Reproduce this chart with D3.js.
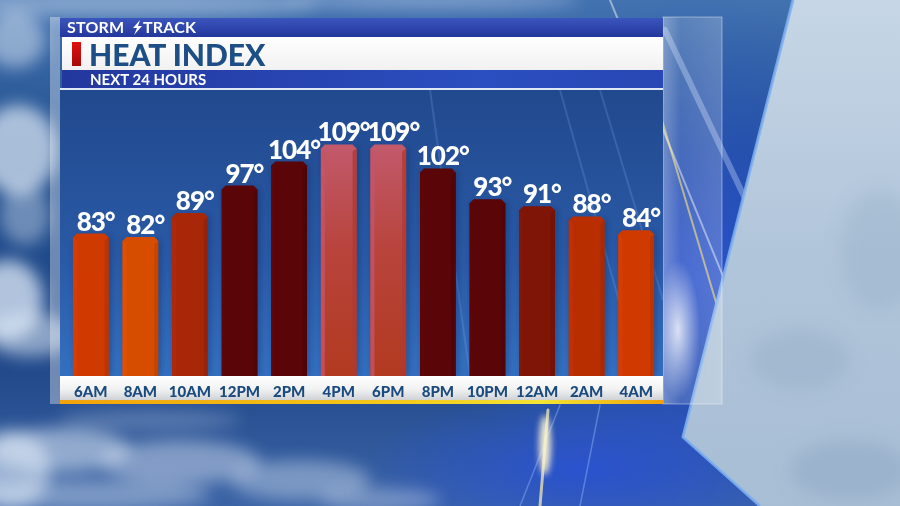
<!DOCTYPE html>
<html>
<head>
<meta charset="utf-8">
<script src="https://cdn.jsdelivr.net/npm/d3@7"></script>
<style>
  html, body { margin: 0; padding: 0; background: #1c3f7e; }
  svg { display: block; font-family: Lato, "Open Sans", sans-serif; }
</style>
</head>
<body>
<div class="chart"></div>
<script>
// heat index for the next 24 hours
var hours  = ["6AM", "8AM", "10AM", "12PM", "2PM", "4PM", "6PM", "8PM", "10PM", "12AM", "2AM", "4AM"];
var values = [83, 82, 89, 97, 104, 109, 109, 102, 93, 91, 88, 84];

var width = 900, height = 506;

var svg = d3.select(".chart").append("svg")
    .attr("width", width)
    .attr("height", height);

var defs = svg.append("defs");

function linGrad(id, x2, y2, stops) {
    var g = defs.append("linearGradient").attr("id", id)
        .attr("x1", 0).attr("y1", 0).attr("x2", x2).attr("y2", y2);
    stops.forEach(function(s) {
        g.append("stop").attr("offset", s[0]).attr("stop-color", s[1])
            .attr("stop-opacity", s[2] == null ? 1 : s[2]);
    });
}

function radGrad(id, color, o0) {
    var g = defs.append("radialGradient").attr("id", id)
        .attr("cx", 0.5).attr("cy", 0.5).attr("r", 0.5);
    g.append("stop").attr("offset", 0).attr("stop-color", color).attr("stop-opacity", o0);
    g.append("stop").attr("offset", 1).attr("stop-color", color).attr("stop-opacity", 0);
}

linGrad("sky", 0, 1, [[0, "#4272b0"], [0.3, "#22508f"], [0.7, "#1f4788"], [1, "#3b64a6"]]);
linGrad("haze", 0, 1, [[0, "#c6d6e6"], [0.5, "#b1c5da"], [1, "#a8bed5"]]);
linGrad("plotbg", 0, 1, [[0, "#21498e"], [0.6, "#2a5aa6"], [1, "#3470c0"]]);
linGrad("topbar", 0, 1, [[0, "#3b55be"], [1, "#23379c"]]);
linGrad("subbar", 1, 0, [[0, "#23389e"], [0.7, "#2b4fc0"], [1, "#2847b4"]]);
linGrad("whitebar", 0, 1, [[0, "#ffffff"], [1, "#f1f1f1"]]);
linGrad("strip", 0, 1, [[0, "#ffffff"], [0.55, "#f2f2f2"], [1, "#cfd2d6"]]);
linGrad("accent", 1, 0, [[0, "#f2a20c"], [0.55, "#f5c81a"], [0.8, "#f4e434"], [1, "#f2a20c"]]);
linGrad("marker", 0, 1, [[0, "#e01010"], [1, "#a80808"]]);
linGrad("glass", 1, 0, [[0, "#ffffff", 0.35], [0.3, "#ffffff", 0.15], [1, "#ffffff", 0.22]]);
linGrad("hot", 0, 1, [[0, "#c25a6c"], [0.45, "#b8443c"], [1, "#b23a20"]]);
radGrad("vivid", "#2a52d0", 0.95);
radGrad("glow", "#ffffff", 0.8);

var blur = defs.append("filter").attr("id", "blur")
    .attr("x", "-50%").attr("y", "-50%").attr("width", "200%").attr("height", "200%");
blur.append("feGaussianBlur").attr("stdDeviation", 8);

var soft = defs.append("filter").attr("id", "soft")
    .attr("x", "-50%").attr("y", "-50%").attr("width", "200%").attr("height", "200%");
soft.append("feGaussianBlur").attr("stdDeviation", 3);

// ---- background
var bg = svg.append("g");
bg.append("rect").attr("width", width).attr("height", height).attr("fill", "url(#sky)");
bg.append("ellipse").attr("cx", 700).attr("cy", 280).attr("rx", 240).attr("ry", 280).attr("fill", "url(#vivid)");
bg.append("ellipse").attr("cx", 580).attr("cy", 470).attr("rx", 220).attr("ry", 80).attr("fill", "url(#vivid)");

var clouds = bg.append("g").attr("filter", "url(#blur)").attr("fill", "#e2ecf8");
[[18, 150, 40, 45, 0.7], [8, 300, 35, 40, 0.75], [30, 335, 45, 22, 0.55],
 [25, 215, 25, 30, 0.4], [60, 450, 70, 22, 0.55], [180, 462, 80, 22, 0.45],
 [300, 480, 70, 20, 0.4], [10, 470, 40, 40, 0.6], [90, 495, 120, 15, 0.4],
 [150, 420, 90, 10, 0.25], [120, 4, 200, 14, 0.4], [430, 0, 150, 10, 0.35],
 [15, 40, 30, 28, 0.5], [380, 500, 60, 12, 0.35]].forEach(function(c) {
    clouds.append("ellipse").attr("cx", c[0]).attr("cy", c[1])
        .attr("rx", c[2]).attr("ry", c[3]).attr("opacity", c[4]);
});

// light streaks
var streaks = bg.append("g").attr("stroke-linecap", "round");
[[610, 0, 790, 440, "#ffffff", 2, 0.45], [665, 30, 760, 230, "#cfe0ff", 6, 0.35],
 [650, 80, 745, 400, "#ffe066", 2, 0.6], [540, 506, 548, 410, "#fff2b0", 3, 0.7],
 [520, 506, 560, 405, "#9cc4ff", 1.5, 0.4], [580, 506, 600, 405, "#9cc4ff", 1.5, 0.4]]
    .forEach(function(s) {
        streaks.append("line").attr("x1", s[0]).attr("y1", s[1]).attr("x2", s[2]).attr("y2", s[3])
            .attr("stroke", s[4]).attr("stroke-width", s[5]).attr("opacity", s[6]);
    });
bg.append("ellipse").attr("cx", 545).attr("cy", 445).attr("rx", 6).attr("ry", 30)
    .attr("fill", "#fff6d0").attr("filter", "url(#soft)").attr("opacity", 0.9);

// right haze panel
bg.append("path")
    .attr("d", "M793,0 L900,0 L900,506 L760,506 L683,437 Z")
    .attr("fill", "url(#haze)");
var haze = bg.append("g").attr("filter", "url(#blur)").attr("fill", "#8ea8c4");
[[850, 470, 60, 30, 0.5], [800, 360, 50, 30, 0.35], [880, 250, 40, 60, 0.3]].forEach(function(c) {
    haze.append("ellipse").attr("cx", c[0]).attr("cy", c[1]).attr("rx", c[2]).attr("ry", c[3]).attr("opacity", c[4]);
});
bg.append("path")
    .attr("d", "M793,0 L683,437 L760,506")
    .attr("fill", "none").attr("stroke", "#7fb0f0").attr("stroke-width", 3).attr("opacity", 0.85);

// ---- panel
var panel = { left: 60, right: 663, top: 90, bottom: 376 };

// glass edges
svg.append("rect").attr("x", 50).attr("y", 17).attr("width", 10).attr("height", 387)
    .attr("fill", "#ffffff").attr("opacity", 0.35);
svg.append("rect").attr("x", 663).attr("y", 17).attr("width", 59).attr("height", 387)
    .attr("fill", "url(#glass)").attr("stroke", "#ffffff").attr("stroke-opacity", 0.4);
svg.append("ellipse").attr("cx", 678).attr("cy", 330).attr("rx", 22).attr("ry", 70)
    .attr("fill", "url(#glow)");

// header
svg.append("rect").attr("x", 60).attr("y", 18).attr("width", 603).attr("height", 19).attr("fill", "url(#topbar)");
svg.append("rect").attr("x", 62).attr("y", 37).attr("width", 601).attr("height", 33).attr("fill", "url(#whitebar)");
svg.append("rect").attr("x", 62).attr("y", 70).attr("width", 601).attr("height", 18).attr("fill", "url(#subbar)");
svg.append("rect").attr("x", 60).attr("y", 88).attr("width", 603).attr("height", 2).attr("fill", "#dfe8f5");

svg.append("text").attr("x", 67).attr("y", 33).attr("fill", "#ffffff")
    .attr("font-size", 16).attr("font-weight", 700).attr("letter-spacing", 0.2).text("STORM");
svg.append("path").attr("d", "M140,20 L133,28 L137,28 L134,35 L142,26 L138,26 Z").attr("fill", "#ffffff");
svg.append("text").attr("x", 143).attr("y", 33).attr("fill", "#ffffff")
    .attr("font-size", 16).attr("font-weight", 700).attr("letter-spacing", 0.2).text("TRACK");

svg.append("rect").attr("x", 72).attr("y", 42).attr("width", 9).attr("height", 24).attr("fill", "url(#marker)");
svg.append("text").attr("x", 89).attr("y", 65.5).attr("fill", "#1d4f86")
    .attr("font-size", 30).attr("font-weight", 900).text("HEAT INDEX");
svg.append("text").attr("x", 90).attr("y", 85).attr("fill", "#ffffff")
    .attr("font-size", 15).attr("font-weight", 700).text("NEXT 24 HOURS");

// plot background
svg.append("rect").attr("x", panel.left).attr("y", panel.top)
    .attr("width", panel.right - panel.left).attr("height", panel.bottom - panel.top)
    .attr("fill", "url(#plotbg)");
var plotStreaks = svg.append("g").attr("stroke", "#9cc0ff").attr("opacity", 0.18);
[[560, 90, 640, 376], [600, 90, 663, 300], [430, 90, 470, 376]].forEach(function(s) {
    plotStreaks.append("line").attr("x1", s[0]).attr("y1", s[1]).attr("x2", s[2]).attr("y2", s[3]).attr("stroke-width", 2);
});

// scales
var x = d3.scaleBand()
    .domain(hours)
    .range([66, 661])
    .paddingInner(0.28)
    .paddingOuter(0.14);

var y = d3.scaleLinear()
    .domain([40, 110])
    .range([381, 141]);

var color = d3.scaleThreshold()
    .domain([83, 86, 89, 91, 93, 106])
    .range(["#d74d00", "#cf3a00", "#b92e00", "#a82708", "#7f1506", "#5a0508", "url(#hot)"]);

function shade(v, k) {
    if (v >= 106) return k < 0 ? "#b03a30" : "#c65468";
    var c = d3.color(color(v));
    return k < 0 ? c.darker(0.35) : c.brighter(0.15);
}

var data = hours.map(function(h, i) { return { hour: h, value: values[i] }; });

var bars = svg.append("g").selectAll("g.bar").data(data).join("g").attr("class", "bar");

var bw = x.bandwidth(), cut = 4, side = 4;

// soft shadow
bars.append("rect")
    .attr("x", function(d) { return x(d.hour) + 2; })
    .attr("y", function(d) { return y(d.value) + 3; })
    .attr("width", bw)
    .attr("height", function(d) { return panel.bottom - y(d.value) - 3; })
    .attr("fill", "#0a1f50").attr("opacity", 0.35).attr("filter", "url(#soft)");

// main body with chamfered top
bars.append("path")
    .attr("d", function(d) {
        var x0 = x(d.hour), x1 = x0 + bw, t = y(d.value), b = panel.bottom;
        return "M" + x0 + "," + b + "L" + x0 + "," + (t + cut) + "L" + (x0 + cut) + "," + t +
            "L" + (x1 - cut) + "," + t + "L" + x1 + "," + (t + cut) + "L" + x1 + "," + b + "Z";
    })
    .attr("fill", function(d) { return color(d.value); });

// side facets
bars.append("path")
    .attr("d", function(d) {
        var x0 = x(d.hour), t = y(d.value), b = panel.bottom;
        return "M" + x0 + "," + b + "L" + x0 + "," + (t + cut) + "L" + (x0 + side) + "," + (t + cut + 3) +
            "L" + (x0 + side) + "," + b + "Z";
    })
    .attr("fill", function(d) { return shade(d.value, 1); })
    .attr("opacity", 0.8);
bars.append("path")
    .attr("d", function(d) {
        var x1 = x(d.hour) + bw, t = y(d.value), b = panel.bottom;
        return "M" + x1 + "," + b + "L" + x1 + "," + (t + cut) + "L" + (x1 - side) + "," + (t + cut + 3) +
            "L" + (x1 - side) + "," + b + "Z";
    })
    .attr("fill", function(d) { return shade(d.value, -1); })
    .attr("opacity", 0.8);

// value labels: the number sits centred on the bar, the degree sign hangs right
var labels = bars.append("text")
    .attr("y", function(d) { return y(d.value) - 3; })
    .attr("fill", "#ffffff")
    .attr("font-size", 26)
    .attr("font-weight", 900)
    .attr("letter-spacing", -1)
    .text(function(d) { return d.value + "°"; });
labels.attr("x", function(d) {
    var n = String(d.value).length;
    var w = this.getSubStringLength(0, n);
    return x(d.hour) + bw / 2 - w / 2;
});

// bottom label strip
svg.append("rect").attr("x", panel.left).attr("y", panel.bottom)
    .attr("width", panel.right - panel.left).attr("height", 24).attr("fill", "url(#strip)");
svg.append("rect").attr("x", panel.left).attr("y", 400)
    .attr("width", panel.right - panel.left).attr("height", 4).attr("fill", "url(#accent)");

var xAxis = svg.append("g")
    .attr("transform", "translate(0," + panel.bottom + ")")
    .call(d3.axisBottom(x).tickSize(0).tickPadding(0));
xAxis.select(".domain").remove();
xAxis.selectAll("text")
    .attr("y", 21)
    .attr("dy", 0)
    .attr("fill", "#1b4b7e")
    .attr("font-family", "Lato, sans-serif")
    .attr("font-size", 15)
    .attr("font-weight", 900);
</script>
</body>
</html>
